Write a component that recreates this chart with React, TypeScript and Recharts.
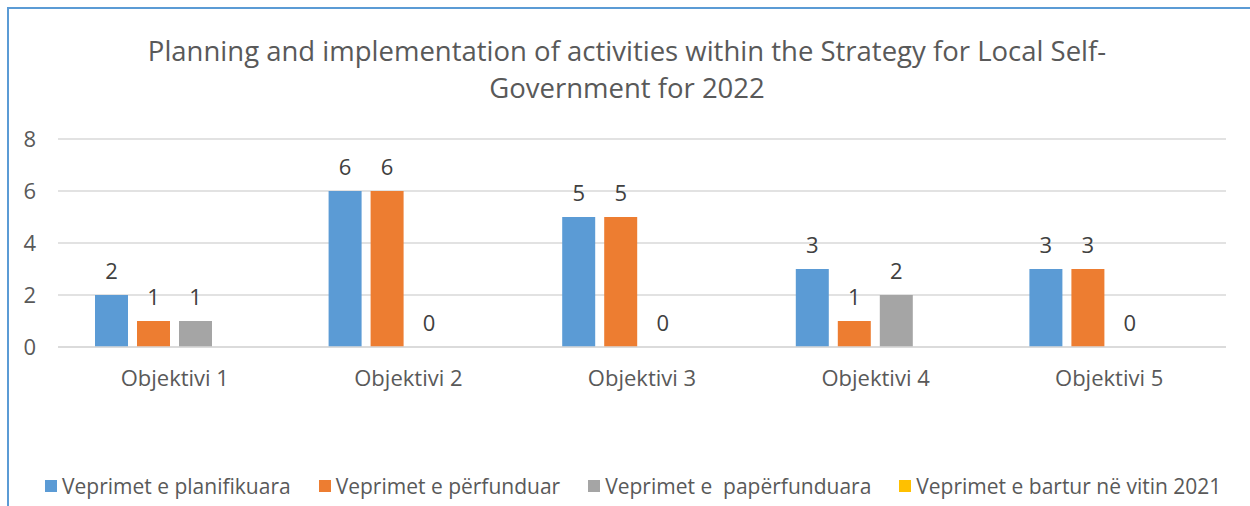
import { Bar, BarChart, CartesianGrid, LabelList, XAxis, YAxis } from "recharts";

const categories = ["Objektivi 1", "Objektivi 2", "Objektivi 3", "Objektivi 4", "Objektivi 5"];
const planned = [2, 6, 5, 3, 3];
const completed = [1, 6, 5, 1, 3];
const incomplete = [1, 0, 0, 2, 0];
const carried: (number | null)[] = [null, null, null, null, null];
const yTicks = [0, 2, 4, 6, 8];

const series = [
  { key: "planned", name: "Veprimet e planifikuara", color: "#5B9BD5" },
  { key: "completed", name: "Veprimet e përfunduar", color: "#ED7D31" },
  { key: "incomplete", name: "Veprimet e  papërfunduara", color: "#A5A5A5" },
  { key: "carried", name: "Veprimet e bartur në vitin 2021", color: "#FFC000" },
];

const data = categories.map((name, i) => ({
  name,
  planned: planned[i],
  completed: completed[i],
  incomplete: incomplete[i],
  carried: carried[i],
}));

const FONT = "'Open Sans', sans-serif";
const TEXT = "#595959";

export default function App() {
  return (
    <div
      style={{
        position: "absolute",
        left: 0,
        top: 0,
        width: 1250,
        height: 506,
        background: "#fff",
        fontFamily: FONT,
        overflow: "hidden",
      }}
    >
      <div
        style={{
          position: "absolute",
          left: 7,
          top: 7,
          width: 1260,
          height: 520,
          borderLeft: "2px solid #5B9BD5",
          borderTop: "2px solid #5B9BD5",
        }}
      />
      <div
        style={{
          position: "absolute",
          left: 0,
          top: 32,
          width: 1254,
          textAlign: "center",
          fontSize: 27.5,
          lineHeight: "37px",
          color: TEXT,
        }}
      >
        <div>Planning and implementation of activities within the Strategy for Local Self-</div>
        <div>Government for 2022</div>
      </div>
      <BarChart
        width={1250}
        height={506}
        data={data}
        margin={{ top: 139, right: 24, bottom: 129, left: 0 }}
        barSize={33}
        barGap={9}
        style={{ position: "absolute", left: 0, top: 0 }}
      >
        <CartesianGrid vertical={false} stroke="#D9D9D9" strokeWidth={1.5} />
        <XAxis
          dataKey="name"
          height={30}
          axisLine={{ stroke: "#D9D9D9", strokeWidth: 1.5 }}
          tickLine={false}
          tick={{ fill: TEXT, fontSize: 22, fontFamily: FONT }}
          tickMargin={17}
        />
        <YAxis
          width={58}
          domain={[0, 8]}
          ticks={yTicks}
          axisLine={false}
          tickLine={false}
          tick={{ fill: TEXT, fontSize: 22, fontFamily: FONT }}
          tickMargin={16}
        />
        {series.map((s) => (
          <Bar
            key={s.key}
            dataKey={s.key}
            name={s.name}
            fill={s.color}
            minPointSize={0.01}
            isAnimationActive={false}
          >
            {s.key !== "carried" && (
              <LabelList
                dataKey={s.key}
                position="top"
                offset={16}
                fill="#404040"
                fontSize={22}
                fontFamily={FONT}
              />
            )}
          </Bar>
        ))}
      </BarChart>
      <div
        style={{
          position: "absolute",
          left: 45,
          top: 472,
          display: "flex",
          alignItems: "center",
          gap: 28,
          fontSize: 21,
          color: TEXT,
          whiteSpace: "pre",
        }}
      >
        {series.map((s) => (
          <div key={s.key} style={{ display: "flex", alignItems: "center", gap: 5 }}>
            <span style={{ width: 12, height: 12, background: s.color, display: "inline-block" }} />
            <span>{s.name}</span>
          </div>
        ))}
      </div>
    </div>
  );
}
